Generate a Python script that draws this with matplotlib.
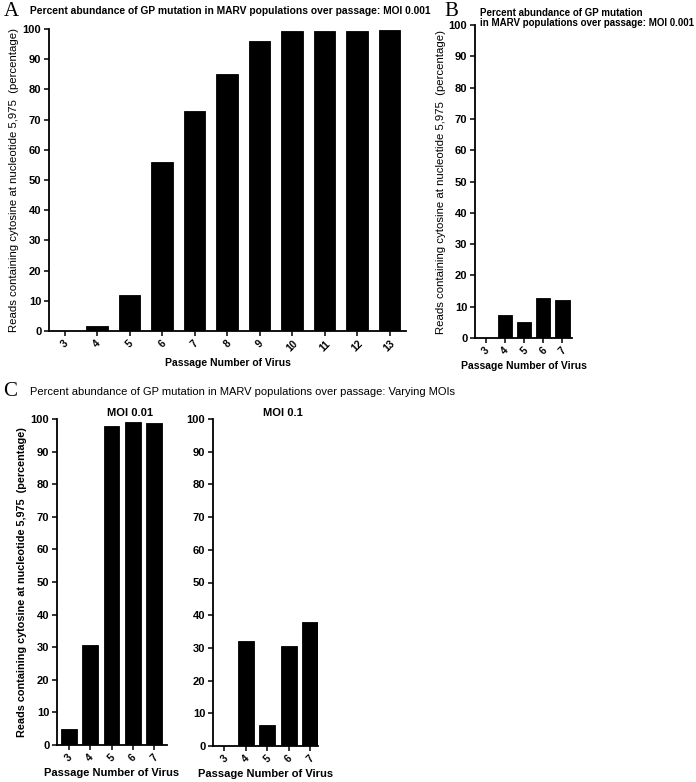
import matplotlib
matplotlib.use("Agg")
from matplotlib import pyplot as plt

plt.rcParams['font.family'] = ['Liberation Sans', 'DejaVu Sans']

# data
passA = ['3', '4', '5', '6', '7', '8', '9', '10', '11', '12', '13']
readsA = [0, 1.8, 12, 56, 73, 85, 96, 99.3, 99.2, 99.5, 99.8]

passB = ['3', '4', '5', '6', '7']
readsB = [0, 7.2, 5.0, 12.7, 12.1]

passC = ['3', '4', '5', '6', '7']
readsC_001 = [4.8, 30.8, 97.8, 99.0, 98.8]
readsC_01 = [0, 32.0, 6.5, 30.6, 37.8]

W, H = 696, 782
ylab = 'Reads containing cytosine at nucleotide 5,975  (percentage)'
xlab = 'Passage Number of Virus'


def px_axes(fig, left, right, top, bottom):
    return fig.add_axes([left / W, 1 - bottom / H, (right - left) / W, (bottom - top) / H])


def bars(ax, labels, vals, width, xlim):
    x = range(len(labels))
    ax.bar(x, vals, width=width, color='black', edgecolor='black', linewidth=0.6)
    ax.set_xlim(*xlim)
    ax.set_ylim(0, 100)
    ax.set_yticks(range(0, 101, 10))
    ax.set_xticks(list(x))
    ax.set_xticklabels(labels, rotation=45, ha='center', va='top', fontweight='bold', fontsize=7.4)
    for t in ax.get_yticklabels():
        t.set_fontweight('bold')
        t.set_fontsize(8)
    for s in ['top', 'right']:
        ax.spines[s].set_visible(False)
    for s in ['left', 'bottom']:
        ax.spines[s].set_linewidth(1.3)
    ax.tick_params(direction='out', length=3.5, width=1.1, pad=2)


fig = plt.figure(figsize=(W / 100, H / 100), dpi=100)

# panel A
axA = px_axes(fig, 49, 406, 29, 331)
bars(axA, passA, readsA, 0.66, (-0.48, 10.5))
axA.set_xlabel(xlab, fontweight='bold', fontsize=7.5, labelpad=3)
axA.set_ylabel(ylab, fontsize=8.2, labelpad=3)
fig.text(30 / W, 1 - 11 / H, 'Percent abundance of GP mutation in MARV populations over passage: MOI 0.001',
         fontweight='bold', fontsize=7.35, va='center', ha='left')
fig.text(4 / W, 1 - 11 / H, 'A', family='Liberation Serif', fontsize=15, va='center', ha='left')

# panel B
axB = px_axes(fig, 475, 572, 25, 338)
bars(axB, passB, readsB, 0.74, (-0.58, 4.5))
axB.set_xlabel(xlab, fontweight='bold', fontsize=7.5, labelpad=3)
axB.set_ylabel(ylab, fontsize=8.2, labelpad=2)
fig.text(480 / W, 1 - 18 / H, 'Percent abundance of GP mutation\nin MARV populations over passage: MOI 0.001',
         fontweight='bold', fontsize=7.0, va='center', ha='left', linespacing=1.1)
fig.text(444 / W, 1 - 11 / H, 'B', family='Liberation Serif', fontsize=15, va='center', ha='left')

# panel C
axC1 = px_axes(fig, 57, 167, 419, 745)
bars(axC1, passC, readsC_001, 0.74, (-0.56, 4.6))
axC1.set_xlabel(xlab, fontweight='bold', fontsize=8.0, labelpad=3)
axC1.set_ylabel(ylab, fontweight='bold', fontsize=7.8, labelpad=3)

axC2 = px_axes(fig, 213, 318, 419, 746)
bars(axC2, passC, readsC_01, 0.74, (-0.52, 4.37))
axC2.set_xlabel(xlab, fontweight='bold', fontsize=8.0, labelpad=3)

fig.text(130 / W, 1 - 413 / H, 'MOI 0.01', fontweight='bold', fontsize=8, va='center', ha='center')
fig.text(283 / W, 1 - 413 / H, 'MOI 0.1', fontweight='bold', fontsize=8, va='center', ha='center')
fig.text(30 / W, 1 - 392 / H, 'Percent abundance of GP mutation in MARV populations over passage: Varying MOIs',
         fontsize=8.0, va='center', ha='left')
fig.text(3 / W, 1 - 392 / H, 'C', family='Liberation Serif', fontsize=15, va='center', ha='left')

fig.savefig('out.png', dpi=100)
